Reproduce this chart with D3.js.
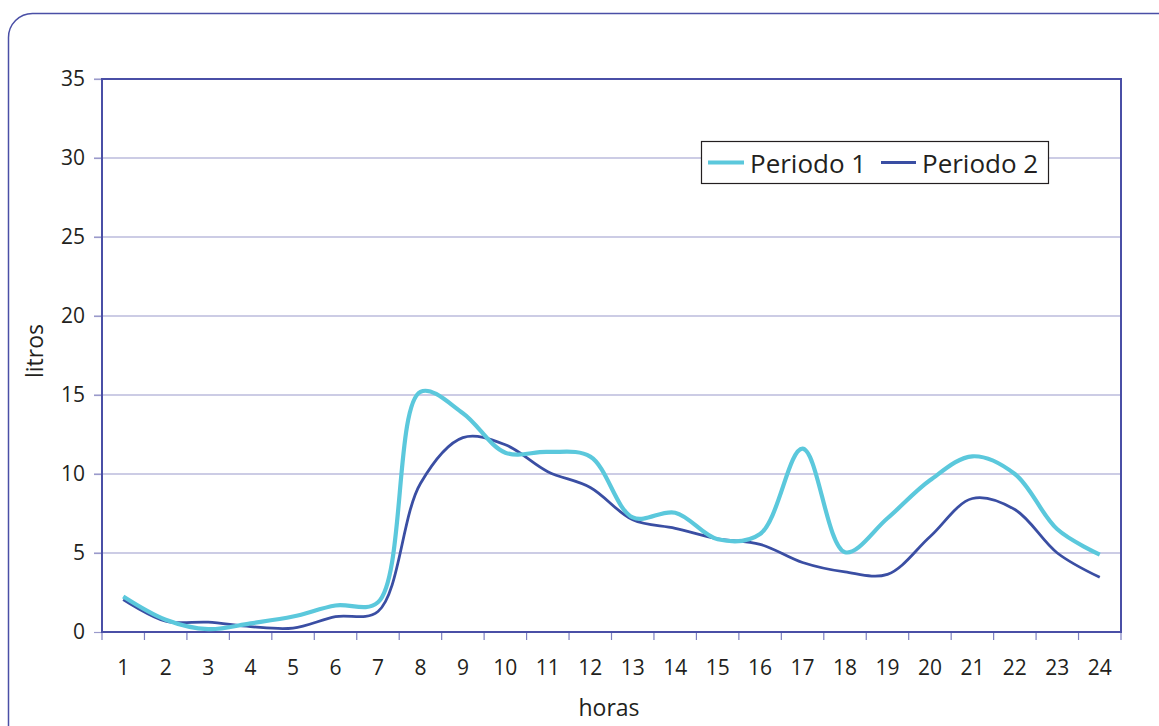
<!DOCTYPE html>
<html>
<head>
<meta charset="utf-8">
<script src="https://cdn.jsdelivr.net/npm/d3@7"></script>
<style>
  html, body { margin: 0; padding: 0; background: #fff; }
  svg { display: block; }
  text { font-family: "Open Sans", "Noto Sans", sans-serif; fill: #231f20; }
</style>
</head>
<body>
<svg id="chart" width="1159" height="726"></svg>
<script>
// Hourly water use (litros) over two measurement periods
const horas = d3.range(1, 25).map(String);
const periodo1 = [2.25, 0.78, 0.18, 0.55, 0.98, 1.68, 1.88, 15.2, 13.85, 11.35, 11.4, 11.1,
                  7.25, 7.55, 5.87, 6.2, 11.6, 5.05, 7.2, 9.6, 11.12, 10.0, 6.5, 4.9];
const periodo2 = [2.05, 0.68, 0.62, 0.34, 0.25, 0.97, 1.3, 9.4, 12.3, 11.85, 10.15, 9.15,
                  7.1, 6.56, 5.9, 5.55, 4.4, 3.8, 3.65, 6.03, 8.45, 7.75, 5.0, 3.46];
const yTicks = [0, 5, 10, 15, 20, 25, 30, 35];
const seriesNames = ["Periodo 1", "Periodo 2"];
const seriesColors = ["#5bc8dc", "#3a4ea3"];

const svg = d3.select("#chart");
const plot = { left: 102, right: 1121, top: 79, bottom: 632 };

// rounded frame around the whole figure
svg.append("rect")
  .attr("x", 8.5).attr("y", 13.5)
  .attr("width", 1200).attr("height", 800)
  .attr("rx", 24).attr("ry", 24)
  .attr("fill", "none").attr("stroke", "#4a4fa6").attr("stroke-width", 1.5);

const x = d3.scaleBand().domain(horas).range([plot.left, plot.right]).padding(0);
const y = d3.scaleLinear().domain([0, 35]).range([plot.bottom, plot.top]);

// horizontal gridlines (extend left as tick marks)
svg.append("g").selectAll("line")
  .data(yTicks.filter(d => d > 0))
  .join("line")
  .attr("x1", plot.left - 8).attr("x2", plot.right)
  .attr("y1", d => y(d)).attr("y2", d => y(d))
  .attr("stroke", "#9a9acb").attr("stroke-width", 1.2);

// y axis
const yAxis = svg.append("g")
  .attr("transform", `translate(${plot.left},0)`)
  .call(d3.axisLeft(y).tickValues(yTicks).tickSize(8).tickPadding(9));
yAxis.select(".domain").remove();
yAxis.selectAll(".tick line").attr("stroke", "#9a9acb").attr("stroke-width", 1.2);
yAxis.selectAll(".tick text").style("font-size", "21px").attr("fill", "#231f20");

// x axis with ticks on category boundaries
const bounds = d3.range(0, 25).map(i => plot.left + i * x.bandwidth());
svg.append("g").selectAll("line")
  .data(bounds)
  .join("line")
  .attr("x1", d => d).attr("x2", d => d)
  .attr("y1", plot.bottom).attr("y2", plot.bottom + 8)
  .attr("stroke", "#7d80c0").attr("stroke-width", 1.2);

svg.append("g").selectAll("text")
  .data(horas)
  .join("text")
  .attr("x", d => x(d) + x.bandwidth() / 2)
  .attr("y", 675)
  .attr("text-anchor", "middle")
  .style("font-size", "21px")
  .text(d => d);

// plot area border
svg.append("rect")
  .attr("x", plot.left).attr("y", plot.top)
  .attr("width", plot.right - plot.left).attr("height", plot.bottom - plot.top)
  .attr("fill", "none").attr("stroke", "#4a4fa6").attr("stroke-width", 2);

// axis titles
svg.append("text")
  .attr("x", 609).attr("y", 716)
  .attr("text-anchor", "middle").style("font-size", "23px").text("horas");
svg.append("text")
  .attr("transform", "translate(43,351) rotate(-90)")
  .attr("text-anchor", "middle").style("font-size", "23px").text("litros");

// smoothed series
const line = d3.line()
  .x((d, i) => x(horas[i]) + x.bandwidth() / 2)
  .y(d => y(d))
  .curve(d3.curveCatmullRom.alpha(0.5));

svg.append("path").datum(periodo2)
  .attr("d", line).attr("fill", "none")
  .attr("stroke", seriesColors[1]).attr("stroke-width", 2.8)
  .attr("stroke-linejoin", "round");
svg.append("path").datum(periodo1)
  .attr("d", line).attr("fill", "none")
  .attr("stroke", seriesColors[0]).attr("stroke-width", 4.2)
  .attr("stroke-linejoin", "round");

// legend
const lg = svg.append("g");
lg.append("rect")
  .attr("x", 701.5).attr("y", 141.5).attr("width", 347).attr("height", 42)
  .attr("fill", "#fff").attr("stroke", "#231f20").attr("stroke-width", 1.2);
const legendItems = [
  { name: seriesNames[0], color: seriesColors[0], w: 4.2, x0: 708, x1: 744, tx: 750 },
  { name: seriesNames[1], color: seriesColors[1], w: 2.8, x0: 881, x1: 916, tx: 922 }
];
legendItems.forEach(it => {
  lg.append("line")
    .attr("x1", it.x0).attr("x2", it.x1).attr("y1", 162.5).attr("y2", 162.5)
    .attr("stroke", it.color).attr("stroke-width", it.w);
  lg.append("text")
    .attr("x", it.tx).attr("y", 173)
    .style("font-size", "26px").text(it.name);
});
</script>
</body>
</html>
